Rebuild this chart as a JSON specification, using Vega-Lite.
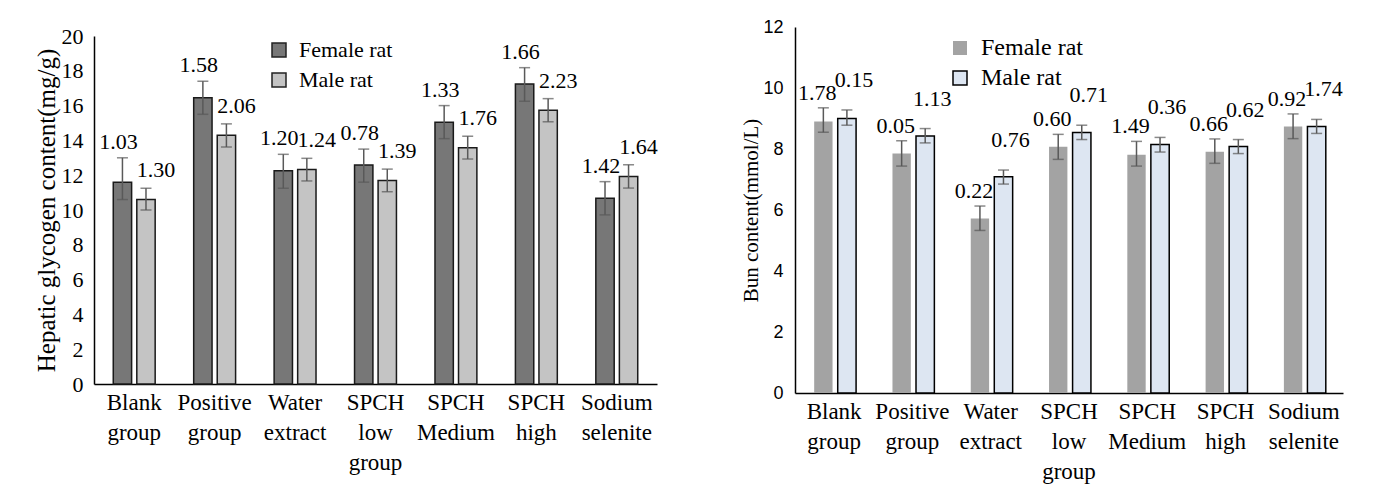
{
  "$schema": "https://vega.github.io/schema/vega-lite/v6.json",
  "background": "white",
  "padding": {"left": 34, "top": 18, "right": 5, "bottom": 5},
  "datasets": {
    "liver": [
      {"group": "Blank group", "sex": "Female rat", "value": 11.6, "lo": 10.6, "hi": 13.0, "label": "1.03"},
      {"group": "Blank group", "sex": "Male rat", "value": 10.6, "lo": 10.0, "hi": 11.25, "label": "1.30"},
      {"group": "Positive group", "sex": "Female rat", "value": 16.45, "lo": 15.5, "hi": 17.4, "label": "1.58"},
      {"group": "Positive group", "sex": "Male rat", "value": 14.3, "lo": 13.62, "hi": 14.95, "label": "2.06"},
      {"group": "Water extract", "sex": "Female rat", "value": 12.25, "lo": 11.25, "hi": 13.2, "label": "1.20"},
      {"group": "Water extract", "sex": "Male rat", "value": 12.33, "lo": 11.67, "hi": 12.97, "label": "1.24"},
      {"group": "SPCH low group", "sex": "Female rat", "value": 12.58, "lo": 11.6, "hi": 13.5, "label": "0.78"},
      {"group": "SPCH low group", "sex": "Male rat", "value": 11.7, "lo": 11.05, "hi": 12.35, "label": "1.39"},
      {"group": "SPCH Medium", "sex": "Female rat", "value": 15.05, "lo": 14.1, "hi": 16.0, "label": "1.33"},
      {"group": "SPCH Medium", "sex": "Male rat", "value": 13.58, "lo": 12.93, "hi": 14.24, "label": "1.76"},
      {"group": "SPCH high", "sex": "Female rat", "value": 17.24, "lo": 16.25, "hi": 18.18, "label": "1.66"},
      {"group": "SPCH high", "sex": "Male rat", "value": 15.73, "lo": 15.07, "hi": 16.4, "label": "2.23"},
      {"group": "Sodium selenite", "sex": "Female rat", "value": 10.67, "lo": 9.72, "hi": 11.63, "label": "1.42"},
      {"group": "Sodium selenite", "sex": "Male rat", "value": 11.92, "lo": 11.26, "hi": 12.6, "label": "1.64"}
    ],
    "bun": [
      {"group": "Blank group", "sex": "Female rat", "value": 8.9, "lo": 8.55, "hi": 9.35, "label": "1.78"},
      {"group": "Blank group", "sex": "Male rat", "value": 9.0, "lo": 8.78, "hi": 9.28, "label": "0.15"},
      {"group": "Positive group", "sex": "Female rat", "value": 7.85, "lo": 7.44, "hi": 8.27, "label": "0.05"},
      {"group": "Positive group", "sex": "Male rat", "value": 8.43, "lo": 8.2, "hi": 8.67, "label": "1.13"},
      {"group": "Water extract", "sex": "Female rat", "value": 5.72, "lo": 5.33, "hi": 6.13, "label": "0.22"},
      {"group": "Water extract", "sex": "Male rat", "value": 7.09, "lo": 6.85, "hi": 7.31, "label": "0.76"},
      {"group": "SPCH low group", "sex": "Female rat", "value": 8.07, "lo": 7.66, "hi": 8.48, "label": "0.60"},
      {"group": "SPCH low group", "sex": "Male rat", "value": 8.54, "lo": 8.31, "hi": 8.78, "label": "0.71"},
      {"group": "SPCH Medium", "sex": "Female rat", "value": 7.81, "lo": 7.44, "hi": 8.25, "label": "1.49"},
      {"group": "SPCH Medium", "sex": "Male rat", "value": 8.15, "lo": 7.9, "hi": 8.38, "label": "0.36"},
      {"group": "SPCH high", "sex": "Female rat", "value": 7.91, "lo": 7.53, "hi": 8.33, "label": "0.66"},
      {"group": "SPCH high", "sex": "Male rat", "value": 8.08, "lo": 7.85, "hi": 8.31, "label": "0.62"},
      {"group": "Sodium selenite", "sex": "Female rat", "value": 8.74, "lo": 8.34, "hi": 9.15, "label": "0.92"},
      {"group": "Sodium selenite", "sex": "Male rat", "value": 8.74, "lo": 8.51, "hi": 8.97, "label": "1.74"}
    ]
  },
  "hconcat": [
    {
      "width": 563,
      "height": 348,
      "data": {"name": "liver"},
      "encoding": {
        "x": {"field": "group", "type": "nominal", "sort": null, "title": null,
              "scale": {"paddingInner": 0.479, "paddingOuter": 0.2395},
              "axis": {"labelAngle": 0, "labelExpr": "split(datum.label, ' ')", "labelFontSize": 23, "labelLineHeight": 30, "labelPadding": 7, "labelBaseline": "top"}},
        "xOffset": {"field": "sex", "type": "nominal", "sort": ["Female rat", "Male rat"], "scale": {"paddingInner": 0.22}}
      },
      "layer": [
        {
          "mark": {"type": "bar", "stroke": "#1a1a1a", "strokeWidth": 1.5},
          "encoding": {
            "y": {"field": "value", "type": "quantitative", "title": "Hepatic glycogen content(mg/g)",
                  "scale": {"domain": [0, 20]},
                  "axis": {"values": [0, 2, 4, 6, 8, 10, 12, 14, 16, 18, 20], "tickCount": 11, "labelOverlap": false, "labelSeparation": 0, "labelFontSize": 22, "titleFontSize": 25, "labelPadding": 11, "titlePadding": 2}},
            "color": {"field": "sex", "type": "nominal",
                      "scale": {"domain": ["Female rat", "Male rat"], "range": ["#777777", "#c4c4c4"]},
                      "legend": {"title": null, "orient": "none", "legendX": 174, "legendY": 3, "labelFontSize": 22, "symbolType": "square", "symbolSize": 196, "symbolStrokeWidth": 1.5, "symbolStrokeColor": "#222222", "rowPadding": 8, "labelOffset": 9}}
          }
        },
        {
          "mark": {"type": "rule", "color": "#595959", "strokeWidth": 1.5},
          "encoding": {"y": {"field": "lo", "type": "quantitative", "title": "Hepatic glycogen content(mg/g)"}, "y2": {"field": "hi"}}
        },
        {
          "mark": {"type": "tick", "color": "#595959", "size": 11, "thickness": 1.5},
          "encoding": {"y": {"field": "lo", "type": "quantitative", "title": "Hepatic glycogen content(mg/g)"}}
        },
        {
          "mark": {"type": "tick", "color": "#595959", "size": 11, "thickness": 1.5},
          "encoding": {"y": {"field": "hi", "type": "quantitative", "title": "Hepatic glycogen content(mg/g)"}}
        },
        {
          "transform": [{"filter": "datum.sex === 'Female rat'"}],
          "mark": {"type": "text", "fontSize": 22, "baseline": "middle", "dy": -16, "dx": -4, "color": "#000000"},
          "encoding": {"y": {"field": "hi", "type": "quantitative", "title": "Hepatic glycogen content(mg/g)"}, "text": {"field": "label"}}
        },
        {
          "transform": [{"filter": "datum.sex === 'Male rat'"}],
          "mark": {"type": "text", "fontSize": 22, "baseline": "middle", "dy": -18, "dx": 10, "color": "#000000"},
          "encoding": {"y": {"field": "hi", "type": "quantitative", "title": "Hepatic glycogen content(mg/g)"}, "text": {"field": "label"}}
        }
      ]
    },
    {
      "width": 548,
      "height": 366,
      "data": {"name": "bun"},
      "encoding": {
        "x": {"field": "group", "type": "nominal", "sort": null, "title": null,
              "scale": {"paddingInner": 0.49, "paddingOuter": 0.245},
              "axis": {"labelAngle": 0, "labelExpr": "split(datum.label, ' ')", "labelFontSize": 23, "labelLineHeight": 30, "labelPadding": 7, "labelBaseline": "top"}},
        "xOffset": {"field": "sex", "type": "nominal", "sort": ["Female rat", "Male rat"], "scale": {"paddingInner": 0.24}}
      },
      "layer": [
        {
          "mark": {"type": "bar", "stroke": "#000000", "strokeWidth": 1.5},
          "encoding": {
            "y": {"field": "value", "type": "quantitative", "title": "Bun content(mmol/L)",
                  "scale": {"domain": [0, 12]},
                  "axis": {"values": [0, 2, 4, 6, 8, 10, 12], "labelOverlap": false, "labelFont": "Liberation Sans", "labelFontSize": 18, "titleFontSize": 21, "labelPadding": 12, "titlePadding": 1}},
            "color": {"field": "sex", "type": "nominal",
                      "scale": {"domain": ["Female rat", "Male rat"], "range": ["#a3a3a3", "#dde6f2"]},
                      "legend": {"title": null, "orient": "none", "legendX": 153, "legendY": 9, "labelFontSize": 24, "symbolType": "square", "symbolSize": 196, "symbolStrokeWidth": 1.5, "symbolStrokeColor": "#000000", "rowPadding": 6, "labelOffset": 9,
                                 "encode": {"symbols": {"update": {"strokeOpacity": {"signal": "datum.value === 'Male rat' ? 1 : 0"}}}}}},
            "strokeOpacity": {"field": "sex", "type": "nominal", "scale": {"domain": ["Female rat", "Male rat"], "range": [0, 1]}, "legend": null}
          }
        },
        {
          "mark": {"type": "rule", "color": "#595959", "strokeWidth": 1.5},
          "encoding": {"y": {"field": "lo", "type": "quantitative", "title": "Bun content(mmol/L)"}, "y2": {"field": "hi"}}
        },
        {
          "mark": {"type": "tick", "color": "#595959", "size": 11, "thickness": 1.5},
          "encoding": {"y": {"field": "lo", "type": "quantitative", "title": "Bun content(mmol/L)"}}
        },
        {
          "mark": {"type": "tick", "color": "#595959", "size": 11, "thickness": 1.5},
          "encoding": {"y": {"field": "hi", "type": "quantitative", "title": "Bun content(mmol/L)"}}
        },
        {
          "transform": [{"filter": "datum.sex === 'Female rat'"}],
          "mark": {"type": "text", "fontSize": 22, "baseline": "middle", "dy": -15, "dx": -6, "color": "#000000"},
          "encoding": {"y": {"field": "hi", "type": "quantitative", "title": "Bun content(mmol/L)"}, "text": {"field": "label"}}
        },
        {
          "transform": [{"filter": "datum.sex === 'Male rat'"}],
          "mark": {"type": "text", "fontSize": 22, "baseline": "middle", "dy": -30, "dx": 7, "color": "#000000"},
          "encoding": {"y": {"field": "hi", "type": "quantitative", "title": "Bun content(mmol/L)"}, "text": {"field": "label"}}
        }
      ]
    }
  ],
  "spacing": 138,
  "bounds": "flush",
  "center": true,
  "resolve": {"scale": {"color": "independent", "strokeOpacity": "independent"}, "legend": {"color": "independent"}},
  "config": {
    "font": "Liberation Serif",
    "view": {"stroke": null},
    "text": {"font": "Liberation Serif"},
    "axis": {"grid": false, "ticks": false, "domainColor": "#000000", "domainWidth": 1.5, "labelColor": "#000000", "titleColor": "#000000", "titleFontWeight": "normal", "labelFont": "Liberation Serif", "titleFont": "Liberation Serif"},
    "axisY": {"labelOverlap": false},
    "legend": {"labelColor": "#000000", "padding": 0, "labelFont": "Liberation Serif"}
  }
}
